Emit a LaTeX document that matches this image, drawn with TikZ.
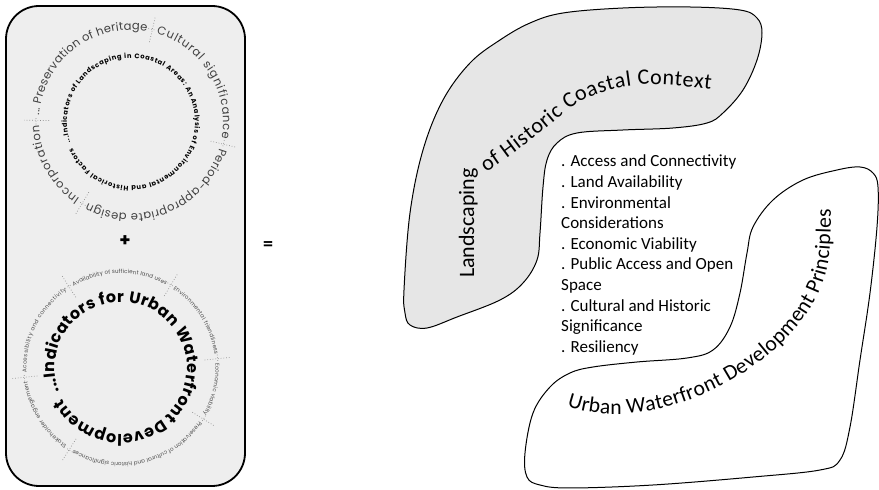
\documentclass[tikz,border=0pt]{standalone}
\usepackage{fontspec}
\setmainfont{Carlito}
\newfontfamily\pop{Poppins}
\newfontfamily\carl{Carlito}
\usetikzlibrary{decorations.text,calc}
\definecolor{boxgray}{HTML}{EEEEEE}
\definecolor{blobgray}{HTML}{E6E6E6}
\definecolor{ringtext}{HTML}{404040}
\definecolor{smalltext}{HTML}{4A4A4A}
\definecolor{sepgray}{HTML}{8C8C8C}
\tikzset{
  boxline/.style={line width=1.8pt, fill=boxgray, rounded corners=33pt},
  blobline/.style={line width=1pt, line join=round},
  sepline/.style={sepgray, dotted, line width=0.7pt},
}
\begin{document}
\begin{tikzpicture}[x=1pt,y=1pt]
\useasboundingbox (0,0) rectangle (879,490);
% ---------- left box ----------
\draw[boxline] (6,4) rectangle (245,484);
\coordinate (c1) at (131,368);
\coordinate (c2) at (121,122);
% top circle separators
\foreach \a in {179,77,-13.5,-121}{
  \draw[sepline] ($(c1)+(\a:82pt)$) -- ($(c1)+(\a:108pt)$);
  \draw[sepline] ($(c1)+(\a:95pt)+({\a+90}:4pt)$) -- ($(c1)+(\a:95pt)+({\a-90}:4pt)$);
}
% top circle outer ring
\path[decorate, decoration={text along path, text align={fit to path}, text color=ringtext,
  text={|\pop\fontsize{11.5}{11.5}\selectfont|... Preservation of heritage}}]
  ($(c1)+(176:92pt)$) arc[start angle=176, end angle=80, radius=92pt];
\path[decorate, decoration={text along path, text align={fit to path}, text color=ringtext,
  text={|\pop\fontsize{11.5}{11.5}\selectfont|Cultural significance}}]
  ($(c1)+(74:92pt)$) arc[start angle=74, end angle=-10.5, radius=92pt];
\path[decorate, decoration={text along path, text align={fit to path}, text color=ringtext,
  text={|\pop\fontsize{11.5}{11.5}\selectfont|Period-appropriate design}}]
  ($(c1)+(-16.5:92pt)$) arc[start angle=-16.5, end angle=-118, radius=92pt];
\path[decorate, decoration={text along path, text align={fit to path}, text color=ringtext,
  text={|\pop\fontsize{11.5}{11.5}\selectfont|Incorporation}}]
  ($(c1)+(-124:92pt)$) arc[start angle=-124, end angle=-178, radius=92pt];
% top circle inner text
\path[decorate, decoration={text along path, text align={fit to path},
  text={|\pop\bfseries\fontsize{6.7}{6.7}\selectfont|...Indicators of Landscaping in Coastal Areas: An Analysis of Environmental and Historical Factors}}]
  ($(c1)+(199:64pt)$) arc[start angle=199, end angle=-156, radius=64pt];
% plus
\node (plus) at (125,249) {\pop\bfseries\fontsize{18}{18}\selectfont +};
% bottom circle separators
\foreach \a in {185.5,122.6,59,5.5,-31.8,-122.4}{
  \draw[sepline] ($(c2)+(\a:84pt)$) -- ($(c2)+(\a:110pt)$);
  \draw[sepline] ($(c2)+(\a:97pt)+({\a+90}:4pt)$) -- ($(c2)+(\a:97pt)+({\a-90}:4pt)$);
}
% bottom circle outer ring
\path[decorate, decoration={text along path, text align={fit to path}, text color=smalltext,
  text={|\pop\fontsize{5.6}{5.6}\selectfont|Accessibility and connectivity}}]
  ($(c2)+(183:94.5pt)$) arc[start angle=183, end angle=125, radius=94.5pt];
\path[decorate, decoration={text along path, text align={fit to path}, text color=smalltext,
  text={|\pop\fontsize{5.6}{5.6}\selectfont|Availability of sufficient land uses}}]
  ($(c2)+(120:94.5pt)$) arc[start angle=120, end angle=61.5, radius=94.5pt];
\path[decorate, decoration={text along path, text align={fit to path}, text color=smalltext,
  text={|\pop\fontsize{5.6}{5.6}\selectfont|Environmental friendliness}}]
  ($(c2)+(56.5:94.5pt)$) arc[start angle=56.5, end angle=8, radius=94.5pt];
\path[decorate, decoration={text along path, text align={fit to path}, text color=smalltext,
  text={|\pop\fontsize{5.6}{5.6}\selectfont|Economic viability}}]
  ($(c2)+(3:94.5pt)$) arc[start angle=3, end angle=-29.3, radius=94.5pt];
\path[decorate, decoration={text along path, text align={fit to path}, text color=smalltext,
  text={|\pop\fontsize{5.6}{5.6}\selectfont|Preservation of cultural and historic significances}}]
  ($(c2)+(-34.3:94.5pt)$) arc[start angle=-34.3, end angle=-119.9, radius=94.5pt];
\path[decorate, decoration={text along path, text align={fit to path}, text color=smalltext,
  text={|\pop\fontsize{5.6}{5.6}\selectfont|Stakeholder engagement}}]
  ($(c2)+(-124.9:94.5pt)$) arc[start angle=-124.9, end angle=-172, radius=94.5pt];
% bottom circle big text
\path[decorate, decoration={text along path, text align={fit to path},
  text={|\pop\bfseries\fontsize{16}{16}\selectfont|...Indicators for Urban Waterfront Development}}]
  ($(c2)+(201:66pt)$) arc[start angle=201, end angle=-152, radius=66pt];
% equals
\node (eq) at (268,244) {\carl\bfseries\fontsize{20}{20}\selectfont =};
% ---------- right side ----------
\draw[blobline, fill=blobgray] plot[smooth cycle, tension=0.6] coordinates {
 (405,177) (404,200) (410,277) (423,340) (443,390) (470,427) (500,450) (530,467)
 (563,477) (623,482) (690,483) (740,480) (757,472) (762,457) (757,430) (743,400)
 (723,377) (707,367) (673,362) (623,360) (577,357) (557,347) (547,330) (543,303)
 (540,257) (537,230) (523,207) (500,190) (457,173) (427,162) (410,165)};
\draw[blobline] plot[smooth cycle, tension=0.6] coordinates {
 (753,263) (773,290) (803,310) (837,320) (860,323) (873,317) (878,303) (877,263)
 (870,197) (860,130) (850,63) (840,30) (820,20) (753,13) (653,5) (570,2) (540,5)
 (527,13) (525,37) (533,77) (550,103) (570,117) (593,123) (637,128) (687,132)
 (713,140) (730,163) (740,197) (747,237)};
% curved titles
\begin{scope}[shift={(474,212)}]
\path[decorate, decoration={text along path, text align={fit to path},
  text={|\carl\fontsize{22}{22}\selectfont|Landscaping}}]
  (0,0) -- (0,106);
\end{scope}
\begin{scope}[shift={(486,318)}]
\path[decorate, decoration={text along path, text align={fit to path},
  text={|\carl\fontsize{22}{22}\selectfont|of Historic Coastal Context}}]
  (0,0) .. controls (19,12) and (29,20) .. (50,36)
  .. controls (74,55) and (89,70) .. (111,78)
  .. controls (144,89) and (164,90) .. (225,83);
\end{scope}
\begin{scope}[shift={(567,84)}]
\path[decorate, decoration={text along path, text align={fit to path},
  text={|\carl\fontsize{21.6}{21.6}\selectfont|Urban Waterfront Development Principles}}]
  (0,0) .. controls (40,-14) and (90,-11) .. (150,18)
  .. controls (200,43) and (255,90) .. (262,150)
  .. controls (263.5,165) and (264,180) .. (264,197);
\end{scope}
% list
\foreach \itm [count=\i] in {{. Access and Connectivity},{. Land Availability},{. Environmental},
  {Considerations},{. Economic Viability},{. Public Access and Open},{Space},
  {. Cultural and Historic},{Significance},{. Resiliency}}{
  \node[anchor=base west, inner sep=0pt, font=\carl\fontsize{17}{17}\selectfont]
    (li\i) at (561,{323-20.6*(\i-1)}) {\itm};
}
\end{tikzpicture}
\end{document}
